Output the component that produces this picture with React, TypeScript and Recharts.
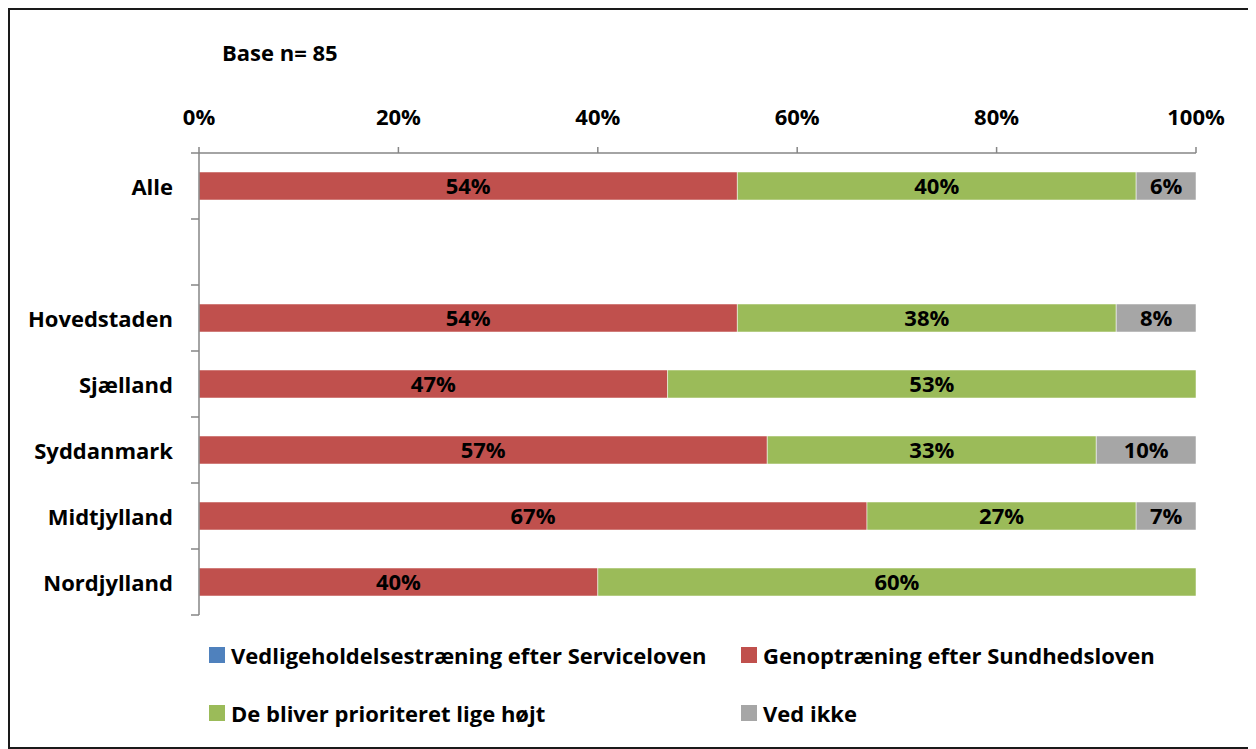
import { BarChart, Bar, XAxis, YAxis, LabelList } from "recharts";

const categories = ["Alle", "", "Hovedstaden", "Sjælland", "Syddanmark", "Midtjylland", "Nordjylland"];
const vedligehold = [0, null, 0, 0, 0, 0, 0];
const genoptraening = [54, null, 54, 47, 57, 67, 40];
const ligeHoejt = [40, null, 38, 53, 33, 27, 60];
const vedIkke = [6, null, 8, 0, 10, 7, 0];
const xTicks = [0, 20, 40, 60, 80, 100];

const series = [
  { key: "vedligehold", name: "Vedligeholdelsestræning efter Serviceloven", color: "#4F81BD" },
  { key: "genoptraening", name: "Genoptræning efter Sundhedsloven", color: "#C0504D" },
  { key: "ligeHoejt", name: "De bliver prioriteret lige højt", color: "#9BBB59" },
  { key: "vedIkke", name: "Ved ikke", color: "#A6A6A6" },
];

const data = categories.map((name, i) => ({
  name,
  vedligehold: vedligehold[i],
  genoptraening: genoptraening[i],
  ligeHoejt: ligeHoejt[i],
  vedIkke: vedIkke[i],
}));

const FONT = "'Open Sans', sans-serif";
const FS = 22;
const AXIS = "#868686";
const W = 1240;
const H = 612;
const TOP = 143;
const BOTTOM = 605;
const AXIS_X = 189;
const BAND = (BOTTOM - TOP) / categories.length;

const pct = (v: unknown) => (typeof v === "number" && v > 0 ? `${v}%` : "");

// category label plus the small boundary ticks Excel puts between bands
function CategoryTick(props: any) {
  const { x, y, payload, index } = props;
  return (
    <g>
      <line x1={AXIS_X - 8} x2={AXIS_X} y1={y + BAND / 2} y2={y + BAND / 2} stroke={AXIS} strokeWidth={1.5} />
      {index === 0 && (
        <line x1={AXIS_X - 8} x2={AXIS_X} y1={y - BAND / 2} y2={y - BAND / 2} stroke={AXIS} strokeWidth={1.5} />
      )}
      <text
        x={x}
        y={y}
        textAnchor="end"
        dominantBaseline="central"
        fontFamily={FONT}
        fontWeight={700}
        fontSize={FS}
        fill="#000"
      >
        {payload.value}
      </text>
    </g>
  );
}

function LegendItem({ name, color }: { name: string; color: string }) {
  return (
    <div style={{ display: "flex", alignItems: "center", gap: 6 }}>
      <span style={{ width: 16, height: 16, background: color, display: "inline-block" }} />
      <span>{name}</span>
    </div>
  );
}

export default function App() {
  return (
    <div
      style={{
        position: "relative",
        width: 1240,
        height: 737,
        border: "2px solid #1a1a1a",
        background: "#fff",
        fontFamily: FONT,
      }}
    >
      <div style={{ position: "absolute", left: 212, top: 27, fontWeight: 700, fontSize: FS }}>Base n= 85</div>
      <BarChart
        width={W}
        height={H}
        data={data}
        layout="vertical"
        margin={{ top: TOP - 50, right: W - 1186, bottom: H - BOTTOM, left: 0 }}
        barCategoryGap={0}
      >
        <XAxis
          type="number"
          orientation="top"
          domain={[0, 100]}
          ticks={xTicks}
          allowDataOverflow
          height={50}
          tickFormatter={(v) => `${v}%`}
          tick={{ fill: "#000", fontSize: FS, fontWeight: 700, fontFamily: FONT }}
          axisLine={{ stroke: AXIS, strokeWidth: 1.5 }}
          tickLine={{ stroke: AXIS, strokeWidth: 1.5 }}
          tickSize={6}
          tickMargin={22}
        />
        <YAxis
          type="category"
          dataKey="name"
          width={AXIS_X}
          axisLine={{ stroke: AXIS, strokeWidth: 1.5 }}
          tickLine={false}
          tickSize={0}
          tickMargin={26}
          interval={0}
          tick={<CategoryTick />}
        />
        {series.map((s) => (
          <Bar
            key={s.key}
            dataKey={s.key}
            name={s.name}
            stackId="a"
            fill={s.color}
            barSize={28}
            stroke="#ffffff"
            strokeOpacity={0.5}
            strokeWidth={1}
            isAnimationActive={false}
          >
            <LabelList
              dataKey={s.key}
              position="center"
              formatter={pct}
              style={{ fill: "#000", fontSize: FS, fontWeight: 700, fontFamily: FONT }}
            />
          </Bar>
        ))}
      </BarChart>
      <div
        style={{
          position: "absolute",
          left: 199,
          top: 630,
          display: "grid",
          gridTemplateColumns: "532px auto",
          rowGap: 28,
          fontWeight: 700,
          fontSize: FS,
          color: "#000",
        }}
      >
        {series.map((s) => (
          <LegendItem key={s.key} name={s.name} color={s.color} />
        ))}
      </div>
    </div>
  );
}
